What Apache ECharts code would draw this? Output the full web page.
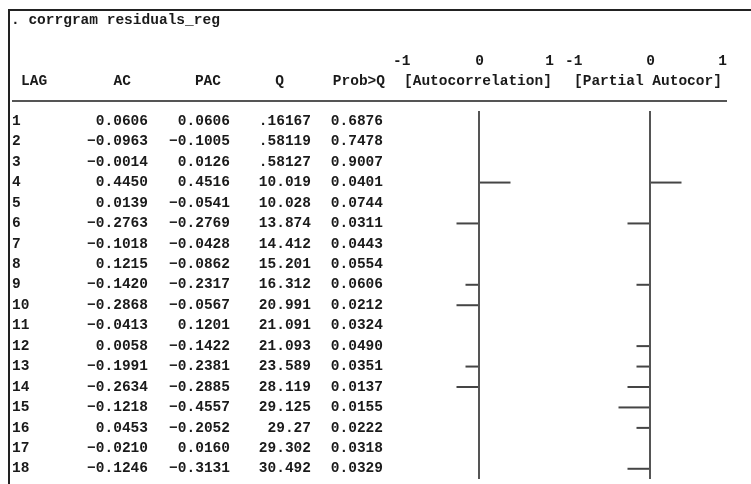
<!DOCTYPE html>
<html>
<head>
<meta charset="utf-8">
<title>corrgram residuals_reg</title>
<script src="https://cdn.jsdelivr.net/npm/echarts@6/dist/echarts.min.js"></script>
<style>
  html, body { margin: 0; padding: 0; background: #ffffff; }
  #chart { width: 751px; height: 484px; }
</style>
</head>
<body>
<div id="chart"></div>
<script>
// Correlogram of the regression residuals (lags 1-18)
const lags = [1, 2, 3, 4, 5, 6, 7, 8, 9, 10, 11, 12, 13, 14, 15, 16, 17, 18];
const acValues = [0.0606, -0.0963, -0.0014, 0.4450, 0.0139, -0.2763, -0.1018, 0.1215, -0.1420,
                  -0.2868, -0.0413, 0.0058, -0.1991, -0.2634, -0.1218, 0.0453, -0.0210, -0.1246];
const pacValues = [0.0606, -0.1005, 0.0126, 0.4516, -0.0541, -0.2769, -0.0428, -0.0862, -0.2317,
                   -0.0567, 0.1201, -0.1422, -0.2381, -0.2885, -0.4557, -0.2052, 0.0160, -0.3131];
const qValues = [0.16167, 0.58119, 0.58127, 10.019, 10.028, 13.874, 14.412, 15.201, 16.312,
                 20.991, 21.091, 21.093, 23.589, 28.119, 29.125, 29.27, 29.302, 30.492];
const probValues = [0.6876, 0.7478, 0.9007, 0.0401, 0.0744, 0.0311, 0.0443, 0.0554, 0.0606,
                    0.0212, 0.0324, 0.0490, 0.0351, 0.0137, 0.0155, 0.0222, 0.0318, 0.0329];
const axisTicks = ['-1', '0', '1'];

const FONT = 'bold 14.5px "Liberation Mono", "DejaVu Sans Mono", monospace';
const INK = '#1a1a1a';

// Text-mode bars: each correlation is shown in whole character cells
// (8 cells per unit), growing from the middle of the cell holding the axis.
function cellBar(v) {
  const cells = Math.floor(Math.abs(v) * 8);
  if (cells === 0) return 0;
  return Math.sign(v) * (cells + 0.5) / 8;
}

const fmtCorr = v => (v < 0 ? '\u2212' : '') + Math.abs(v).toFixed(4);
const fmtQ = v => String(v).replace(/^0\./, '.');

const rowIdx = lags.map((_, i) => i);

const chart = echarts.init(document.getElementById('chart'), null, { renderer: 'canvas' });

const gridTop = 111, gridHeight = 368;

function barAxisSet(idx) {
  return {
    x: { type: 'value', gridIndex: idx, min: -1, max: 1, show: false },
    y: { type: 'category', gridIndex: idx, data: lags, inverse: true, show: false }
  };
}
const g1 = barAxisSet(1), g2 = barAxisSet(2);

function barSeries(idx, values) {
  return {
    type: 'bar',
    xAxisIndex: idx, yAxisIndex: idx,
    data: values.map(cellBar),
    barWidth: 2,
    itemStyle: { color: '#454545' },
    silent: true,
    animation: false,
    markLine: {
      silent: true,
      symbol: ['none', 'none'],
      label: { show: false },
      lineStyle: { color: '#555555', width: 2, type: 'solid' },
      data: [{ xAxis: 0 }],
      animation: false
    }
  };
}

// Header text pieces
function txt(text, x, y, align) {
  return {
    type: 'text',
    style: { text: text, x: x, y: y, align: align || 'left', verticalAlign: 'middle', font: FONT, fill: INK },
    silent: true
  };
}

const option = {
  animation: false,
  backgroundColor: '#ffffff',
  grid: [
    { left: 0, width: 751, top: gridTop, height: gridHeight },
    { left: 407, width: 144, top: gridTop, height: gridHeight },
    { left: 578, width: 144, top: gridTop, height: gridHeight }
  ],
  xAxis: [
    { type: 'value', gridIndex: 0, min: 0, max: 751, show: false },
    g1.x, g2.x
  ],
  yAxis: [
    { type: 'category', gridIndex: 0, data: lags, inverse: true, show: false },
    g1.y, g2.y
  ],
  graphic: {
    elements: [
      // frame of the results window
      { type: 'line', shape: { x1: 8, y1: 10, x2: 751, y2: 10 }, style: { stroke: '#222222', lineWidth: 2 }, silent: true },
      { type: 'line', shape: { x1: 9, y1: 9, x2: 9, y2: 484 }, style: { stroke: '#222222', lineWidth: 2 }, silent: true },
      // header rule
      { type: 'line', shape: { x1: 12, y1: 101, x2: 727, y2: 101 }, style: { stroke: '#555555', lineWidth: 2 }, silent: true },
      txt('. corrgram residuals_reg', 11, 20),
      txt(axisTicks[0], 393, 61), txt(axisTicks[1], 479.5, 61, 'center'), txt(axisTicks[2], 554, 61, 'right'),
      txt(axisTicks[0], 565, 61), txt(axisTicks[1], 650.5, 61, 'center'), txt(axisTicks[2], 727, 61, 'right'),
      txt('LAG', 21, 81),
      txt('AC', 131, 81, 'right'),
      txt('PAC', 221, 81, 'right'),
      txt('Q', 284, 81, 'right'),
      txt('Prob>Q', 385, 81, 'right'),
      txt('[Autocorrelation]', 404, 81),
      txt('[Partial Autocor]', 574, 81)
    ]
  },
  series: [
    {
      type: 'custom',
      xAxisIndex: 0, yAxisIndex: 0,
      data: rowIdx.map(i => [0, i]),
      encode: { x: 0, y: 1 },
      silent: true,
      animation: false,
      renderItem: function (params, api) {
        const i = api.value(1);
        const y = api.coord([0, i])[1];
        const cell = (text, x, align) => ({
          type: 'text',
          style: { text: text, x: x, y: y, align: align, verticalAlign: 'middle', font: FONT, fill: INK }
        });
        return {
          type: 'group',
          children: [
            cell(String(lags[i]), 12, 'left'),
            cell(fmtCorr(acValues[i]), 148, 'right'),
            cell(fmtCorr(pacValues[i]), 230, 'right'),
            cell(fmtQ(qValues[i]), 311, 'right'),
            cell(probValues[i].toFixed(4), 383, 'right')
          ]
        };
      }
    },
    barSeries(1, acValues),
    barSeries(2, pacValues)
  ]
};

chart.setOption(option);
</script>
</body>
</html>
